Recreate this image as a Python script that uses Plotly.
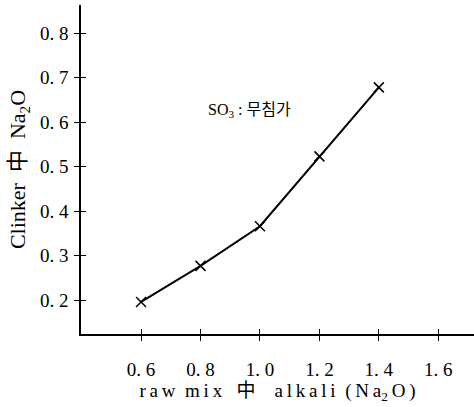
import plotly.graph_objects as go

x_vals = [0.6, 0.8, 1.0, 1.2, 1.4]
y_vals = [0.196, 0.277, 0.366, 0.523, 0.678]
x_ticks = [0.6, 0.8, 1.0, 1.2, 1.4, 1.6]
x_ticktext = ["0. 6", "0. 8", "1. 0", "1. 2", "1. 4", "1. 6"]
y_ticks = [0.2, 0.3, 0.4, 0.5, 0.6, 0.7, 0.8]
y_ticktext = ["0. 2", "0. 3", "0. 4", "0. 5", "0. 6", "0. 7", "0. 8"]

serif = "Liberation Serif, Times New Roman, serif"
cjk = "Liberation Serif, Noto Sans CJK KR, serif"


def spaced(word):
    return "\u2009".join(word)


gap = "\u00a0\u00a0"
x_title = (spaced("raw") + gap + spaced("mix") + gap + "\u00a0中" + gap + "\u00a0\u00a0"
           + spaced("alkali") + gap + "(\u2009N\u2009a<sub>2</sub>\u2009O\u2009)")

fig = go.Figure()
fig.add_trace(go.Scatter(
    x=x_vals, y=y_vals, mode="lines+markers",
    line=dict(color="black", width=2),
    marker=dict(symbol="x-thin", size=10, line=dict(color="black", width=1.5)),
    showlegend=False, cliponaxis=False,
))
# invisible trace for overlay axes (crossing tick marks)
fig.add_trace(go.Scatter(x=[x_ticks[0]], y=[y_ticks[0]], xaxis="x2", yaxis="y2",
                         mode="markers", marker=dict(opacity=0), showlegend=False,
                         hoverinfo="skip"))

xr = [0.398, 1.72]
yr = [0.124, 0.863]

fig.update_layout(
    width=474, height=407,
    margin=dict(l=81, r=0, t=5, b=73, autoexpand=False),
    plot_bgcolor="white", paper_bgcolor="white",
    font=dict(family=serif, color="black", size=16),
    xaxis=dict(range=xr, tickvals=x_ticks, ticktext=x_ticktext, automargin=False,
               showgrid=False, zeroline=False, showline=True, linecolor="black",
               linewidth=1.5, ticks="outside", ticklen=5, tickcolor="black",
               ticklabelstandoff=12,
               tickfont=dict(size=19),
               title=dict(text=x_title, font=dict(family=cjk, size=19), standoff=4)),
    yaxis=dict(range=yr, tickvals=y_ticks, ticktext=y_ticktext, automargin=False,
               showgrid=False, zeroline=False, showline=True, linecolor="black",
               linewidth=1.5, ticks="outside", ticklen=5, tickcolor="black",
               ticklabelstandoff=2,
               tickfont=dict(size=19),
               title=dict(text="Clinker  中  Na<sub>2</sub>O", font=dict(family=cjk, size=22), standoff=8)),
    xaxis2=dict(range=xr, overlaying="x", tickvals=x_ticks, showticklabels=False,
                ticks="inside", ticklen=5, tickcolor="black", showgrid=False,
                zeroline=False, showline=False),
    yaxis2=dict(range=yr, overlaying="y", tickvals=y_ticks, showticklabels=False,
                ticks="inside", ticklen=5, tickcolor="black", showgrid=False,
                zeroline=False, showline=False),
)
fig.add_annotation(x=0.82, y=0.625, xanchor="left", yanchor="middle",
                   text="SO<sub>3</sub> : 무침가", showarrow=False,
                   font=dict(family=cjk, size=16, color="black"))

fig.write_html("out.html", config={"displayModeBar": False},
               post_script="document.body.style.margin='0';")
